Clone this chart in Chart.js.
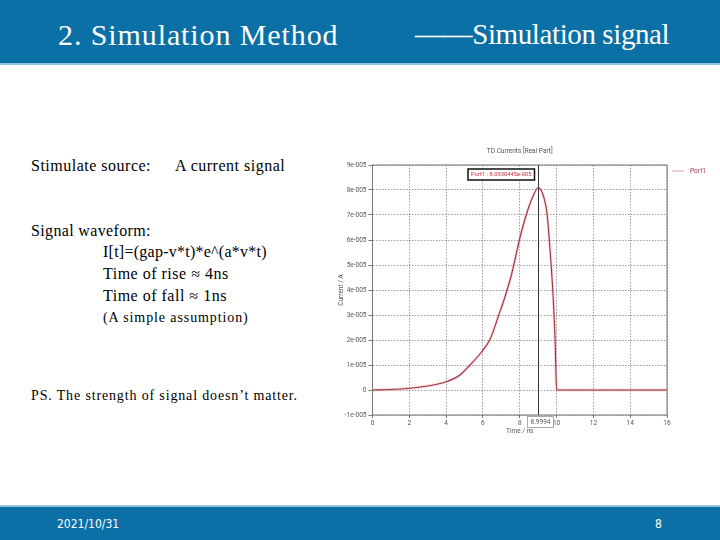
<!DOCTYPE html>
<html lang="en">
<head>
    <meta charset="UTF-8">
    <title>Simulation signal</title>
    <style>
        body {
            margin: 0;
            width: 720px;
            height: 540px;
            position: relative;
            overflow: hidden;
            background: #fff;
            font-family: "Liberation Serif", "Times New Roman", serif;
        }

        .header {
            position: absolute;
            left: 0; top: 0;
            width: 720px; height: 63px;
            background: #0b70a5;
            border-bottom: 2px solid #8fc3de;
        }

        .footer {
            position: absolute;
            left: 0; top: 505px;
            width: 720px; height: 35px;
            background: #0b70a5;
            border-top: 2px solid #8fc3de;
        }

        .t {
            position: absolute;
            white-space: nowrap;
            color: #000;
            font-family: "Liberation Serif", "Times New Roman", serif;
        }

        .body-text {
            font-size: 16px;
            letter-spacing: 0.5px;
        }

        .head-text {
            color: #fff;
            font-size: 30px;
            top: 18px;
        }

        .foot-text {
            color: #fff;
            font-family: "Liberation Sans Narrow", "DejaVu Sans Condensed", sans-serif;
            font-size: 12px;
            top: 517px;
        }

        .chart-box {
            position: absolute;
            left: 330px;
            top: 140px;
            width: 390px;
            height: 300px;
        }
    </style>
    <script src="https://cdn.jsdelivr.net/npm/chart.js"></script>
</head>
<body>

<div class="header"></div>
<div class="footer"></div>

<div class="t head-text" style="left:58px; letter-spacing:0.9px;">2. Simulation Method</div>
<div class="t head-text" style="left:415px; font-size:29px; letter-spacing:-0.4px;">——Simulation signal</div>

<div class="t body-text" style="left:31px; top:157px;">Stimulate source:</div>
<div class="t body-text" style="left:175px; top:157px;">A current signal</div>

<div class="t body-text" style="left:31px; top:222px; letter-spacing:0.35px;">Signal waveform:</div>
<div class="t body-text" style="left:103px; top:243px; letter-spacing:0.25px;">I[t]=(gap-v*t)*e^(a*v*t)</div>
<div class="t body-text" style="left:103px; top:265px;">Time of rise ≈ 4ns</div>
<div class="t body-text" style="left:103px; top:287px;">Time of fall ≈ 1ns</div>
<div class="t" style="left:103px; top:310px; font-size:14px; letter-spacing:0.9px;">(A simple assumption)</div>

<div class="t" style="left:31px; top:388px; font-size:14px; letter-spacing:0.85px;">PS. The strength of signal doesn’t matter.</div>

<div class="t foot-text" style="left:57px;">2021/10/31</div>
<div class="t foot-text" style="left:655px;">8</div>

<div class="chart-box">
    <canvas id="signalChart" width="390" height="300"></canvas>
</div>

<script>
    // Curve (time in ns, current in units of 1e-5 A)
    const times = [0, 1, 2, 3, 4, 4.75, 5.3, 5.9, 6.4, 6.86, 7.2, 7.57, 7.98, 8.38, 8.75, 9.0, 9.3, 9.48, 9.66, 9.8, 9.92, 10, 16];
    const current = [0, 0.02, 0.07, 0.16, 0.33, 0.6, 1.0, 1.5, 2.05, 3.0, 3.73, 4.67, 6.0, 7.07, 7.8, 8.09, 7.73, 7.07, 5.47, 3.9, 2.0, 0, 0];

    const markerTime = 8.9994;
    const markerLabel = 'Port1 : 8.0930445e-005';
    const xTicks = [0, 2, 4, 6, 8, 10, 12, 14, 16];
    const yTicks = [-1, 0, 1, 2, 3, 4, 5, 6, 7, 8, 9];

    const tinyFont = { family: 'Roboto, "DejaVu Sans", sans-serif', size: 6.5 };
    const gridColor = 'rgba(0,0,0,0.38)';

    // Box, title, legend, marker line and labels
    const decorations = {
        id: 'decorations',
        afterDraw(chart) {
            const ctx = chart.ctx;
            const a = chart.chartArea;
            const xs = chart.scales.x;
            const midX = (a.left + a.right) / 2;
            ctx.save();

            // plot frame
            ctx.strokeStyle = '#777';
            ctx.lineWidth = 1;
            ctx.strokeRect(a.left, a.top, a.right - a.left, a.bottom - a.top);

            ctx.font = '6.5px Roboto, "DejaVu Sans", sans-serif';

            // title
            ctx.fillStyle = '#555';
            ctx.textAlign = 'center';
            ctx.textBaseline = 'middle';
            ctx.fillText('TD Currents [Real Part]', midX, a.top - 14);

            // legend
            ctx.strokeStyle = '#e8a0a8';
            ctx.beginPath();
            ctx.moveTo(a.right + 5, a.top + 6);
            ctx.lineTo(a.right + 17, a.top + 6);
            ctx.stroke();
            ctx.fillStyle = '#b03a48';
            ctx.textAlign = 'left';
            ctx.fillText('Port1', a.right + 23, a.top + 6);

            // vertical marker
            const mx = Math.round(xs.getPixelForValue(markerTime)) + 0.5;
            ctx.strokeStyle = '#333';
            ctx.lineWidth = 1;
            ctx.beginPath();
            ctx.moveTo(mx, a.top);
            ctx.lineTo(mx, a.bottom);
            ctx.stroke();

            // value box
            ctx.font = '5.8px Roboto, "DejaVu Sans", sans-serif';
            const w = ctx.measureText(markerLabel).width + 6;
            ctx.fillStyle = '#fff';
            ctx.fillRect(mx - 4 - w, a.top + 4, w, 11);
            ctx.strokeStyle = '#111';
            ctx.lineWidth = 1.5;
            ctx.strokeRect(mx - 4 - w, a.top + 4, w, 11);
            ctx.fillStyle = '#c0303c';
            ctx.textAlign = 'center';
            ctx.fillText(markerLabel, mx - 4 - w / 2, a.top + 9.5);

            // x label box
            ctx.font = '6.5px Roboto, "DejaVu Sans", sans-serif';
            const xl = markerTime.toFixed(4);
            const xw = ctx.measureText(xl).width + 6;
            ctx.fillStyle = '#fff';
            ctx.fillRect(mx - 11, a.bottom + 1.5, xw, 11);
            ctx.strokeStyle = '#aaa';
            ctx.lineWidth = 1;
            ctx.strokeRect(mx - 11, a.bottom + 1.5, xw, 11);
            ctx.fillStyle = '#555';
            ctx.fillText(xl, mx - 11 + xw / 2, a.bottom + 7);

            // axis titles
            ctx.fillStyle = '#555';
            ctx.fillText('Time / ns', midX, a.bottom + 16);
            ctx.translate(a.left - 31, (a.top + a.bottom) / 2);
            ctx.rotate(-Math.PI / 2);
            ctx.fillText('Current / A', 0, 0);

            ctx.restore();
        }
    };

    const ctx = document.getElementById('signalChart').getContext('2d');
    new Chart(ctx, {
        type: 'line',
        data: {
            datasets: [
                {
                    label: 'Port1',
                    data: times.map((t, i) => ({ x: t, y: current[i] })),
                    borderColor: '#a0303c',
                    borderWidth: 1.1,
                    pointRadius: 0,
                    cubicInterpolationMode: 'monotone',
                    fill: false
                },
                {
                    label: 'halo',
                    data: times.map((t, i) => ({ x: t, y: current[i] })),
                    borderColor: 'rgba(240,160,170,0.4)',
                    borderWidth: 2.8,
                    pointRadius: 0,
                    cubicInterpolationMode: 'monotone',
                    fill: false
                }
            ]
        },
        options: {
            responsive: false,
            animation: false,
            events: [],
            layout: { padding: { top: 25, right: 53, left: 0, bottom: 0 } },
            plugins: {
                legend: { display: false },
                title: { display: false },
                tooltip: { enabled: false }
            },
            scales: {
                x: {
                    type: 'linear',
                    min: 0,
                    max: 16,
                    afterBuildTicks: s => { s.ticks = xTicks.map(v => ({ value: v })); },
                    afterFit: s => { s.height = 25; },
                    ticks: { color: '#555', font: tinyFont, padding: 1, maxRotation: 0 },
                    grid: { color: gridColor, tickLength: 3, tickColor: '#777' },
                    border: { display: false, dash: [1.5, 1.5] }
                },
                y: {
                    min: -1,
                    max: 9,
                    afterBuildTicks: s => { s.ticks = yTicks.map(v => ({ value: v })); },
                    afterFit: s => { s.width = 42.5; },
                    ticks: {
                        color: '#555',
                        font: tinyFont,
                        padding: 2,
                        callback: v => v === 0 ? '0' : v + 'e-005'
                    },
                    grid: { color: gridColor, tickLength: 4, tickColor: '#777' },
                    border: { display: false, dash: [1.5, 1.5] }
                }
            }
        },
        plugins: [decorations]
    });
</script>

</body>
</html>
